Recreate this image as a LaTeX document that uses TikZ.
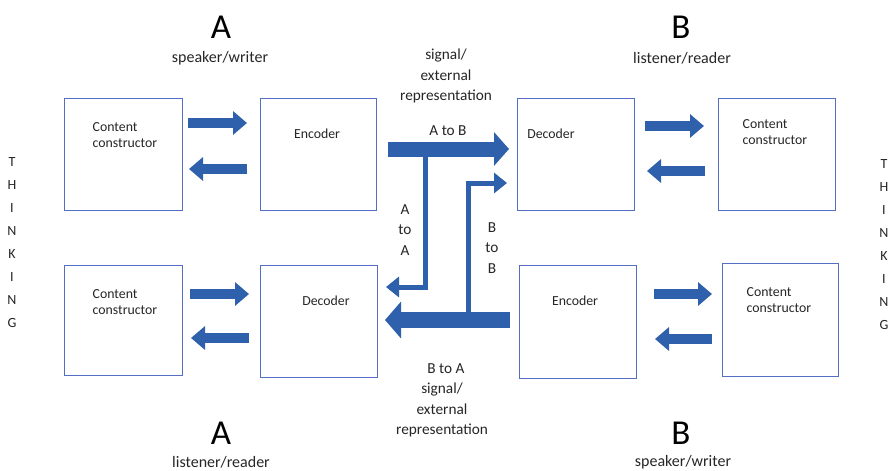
\documentclass[tikz,border=0pt]{standalone}
\usepackage{fontspec}
\setmainfont{Carlito}
\usetikzlibrary{arrows.meta}
\definecolor{boxline}{RGB}{84,110,196}
\definecolor{arrowblue}{RGB}{46,96,172}
\definecolor{ink}{RGB}{38,38,38}
\tikzset{
  x=1pt, y=-1pt,
  panel/.style={draw=boxline, line width=1pt},
  lbl/.style={text=ink, font=\fontsize{13.8}{16}\selectfont, inner sep=0pt, align=left},
  mid/.style={text=ink, font=\fontsize{15.3}{20.5}\selectfont, inner sep=0pt, align=center},
  big/.style={text=black, font=\fontsize{35}{36}\selectfont, inner sep=0pt},
  role/.style={text=ink, font=\fontsize{16}{18}\selectfont, inner sep=0pt},
  side/.style={text=ink, font=\fontsize{14}{23}\selectfont, inner sep=0pt, align=center},
  smallarrow/.style={arrowblue, line width=10pt, -{Triangle[length=14pt,width=23pt]}},
  thinarrow/.style={arrowblue, line width=5pt, line join=miter, -{Triangle[length=13pt,width=20pt]}},
  wide/.style={arrowblue, line width=15pt, -{Triangle[length=15pt,width=33pt]}},
}
\begin{document}
\begin{tikzpicture}
\useasboundingbox[fill=white] (0,0) rectangle (892,471);

% boxes
\draw[panel] (64,98) rectangle (182,210);
\draw[panel] (260,98) rectangle (376,210);
\draw[panel] (517,98) rectangle (634,210);
\draw[panel] (718,98) rectangle (835,210);
\draw[panel] (64,265) rectangle (182,375);
\draw[panel] (260,265) rectangle (377,377);
\draw[panel] (519,265) rectangle (636,378);
\draw[panel] (722,263) rectangle (838,376);

% box texts
\node[lbl] (t1) at (125,135) {Content\\constructor};
\node[lbl] (t2) at (317,134) {Encoder};
\node[lbl] (t3) at (551,134) {Decoder};
\node[lbl] (t4) at (775,132) {Content\\constructor};
\node[lbl] (t5) at (125,302) {Content\\constructor};
\node[lbl] (t6) at (326,301) {Decoder};
\node[lbl] (t7) at (575,301) {Encoder};
\node[lbl] (t8) at (779,300) {Content\\constructor};

% headings
\node[big] (hA1) at (221,27) {A};
\node[role] (rA1) at (220,58) {speaker/writer};
\node[big] (hB1) at (681,27) {B};
\node[role] (rB1) at (682,58) {listener/reader};
\node[big] (hA2) at (221,433) {A};
\node[role] (rA2) at (221,462) {listener/reader};
\node[big] (hB2) at (681,433) {B};
\node[role] (rB2) at (683,462) {speaker/writer};

\node[mid] (sig1) at (446,76) {signal/\\external\\representation};
\node[mid] (sig2) at (442,410) {signal/\\external\\representation};

\node[side] (th1) at (12,243) {T\\H\\I\\N\\K\\I\\N\\G};
\node[side] (th2) at (884,245) {T\\H\\I\\N\\K\\I\\N\\G};

% small arrows between boxes
\coordinate (a1s) at (188,123); \coordinate (a1e) at (247,123);
\coordinate (a2s) at (247,169); \coordinate (a2e) at (189,169);
\coordinate (a3s) at (645,126); \coordinate (a3e) at (704,126);
\coordinate (a4s) at (705,171); \coordinate (a4e) at (647,171);
\coordinate (a5s) at (190,294); \coordinate (a5e) at (249,294);
\coordinate (a6s) at (249,338); \coordinate (a6e) at (191,338);
\coordinate (a7s) at (654,294); \coordinate (a7e) at (712,294);
\coordinate (a8s) at (712,339); \coordinate (a8e) at (655,339);
\foreach \i in {1,...,8} \draw[smallarrow] (a\i s) -- (a\i e);

% signal arrows
\coordinate (ab1) at (388,149); \coordinate (ab2) at (509,149);
\coordinate (ba1) at (510,320); \coordinate (ba2) at (385,320);
\coordinate (aa1) at (425,150); \coordinate (aa2) at (425,287); \coordinate (aa3) at (386,287);
\coordinate (bb1) at (468,320); \coordinate (bb2) at (468,183); \coordinate (bb3) at (507,183);
\draw[thinarrow] (aa1) -- (aa2) -- (aa3);
\draw[thinarrow] (bb1) -- (bb2) -- (bb3);
\draw[wide] (ab1) -- (ab2);
\draw[wide, line width=16pt, -{Triangle[length=16pt,width=36pt]}] (ba1) -- (ba2);

\node[mid] (lab) at (448,131) {A to B};
\node[mid] (laa) at (405,230) {A\\to\\A};
\node[mid] (lbb) at (492,248) {B\\to\\B};
\node[mid] (lba) at (446,369) {B to A};
\end{tikzpicture}
\end{document}
